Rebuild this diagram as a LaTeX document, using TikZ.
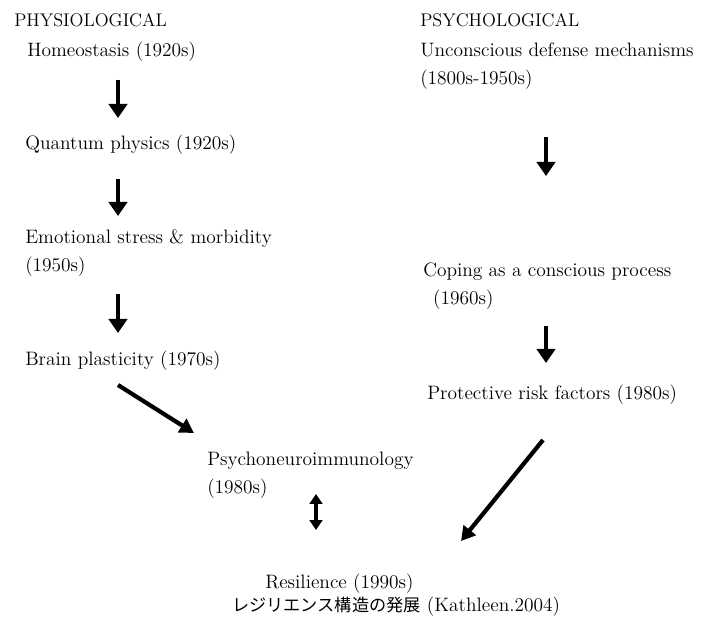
\documentclass[tikz,border=0pt]{standalone}
\usepackage{fontspec}
\newfontfamily\jpfont{Noto Sans CJK JP}
\usepackage{tikz}
\usetikzlibrary{arrows.meta}

\begin{document}
\begin{tikzpicture}[
  x=0.025cm, y=-0.025cm,
  every node/.style={font=\fontsize{13.8}{20.5}\selectfont, inner sep=0pt},
  stage/.style={anchor=base west, align=left},
  heading/.style={anchor=base west, font=\fontsize{13}{15}\selectfont},
  flow/.style={-{Triangle[width=13pt, length=10pt]}, line width=3.5pt},
  slant/.style={-{Triangle[width=11pt, length=10pt]}, line width=3pt},
  mutual/.style={{Triangle[width=9pt, length=7pt]}-{Triangle[width=9pt, length=7pt]}, line width=3.5pt},
]
  \useasboundingbox (0,0) rectangle (719,623);

  % physiological column
  \node[heading] (phys) at (14,27) {PHYSIOLOGICAL};
  \node[stage] (homeo) at (27,57) {Homeostasis (1920s)};
  \node[stage] (quant) at (25,150) {Quantum physics (1920s)};
  \node[stage] (emot) at (25,272) {Emotional stress \& morbidity\\(1950s)};
  \node[stage] (brain) at (25,366) {Brain plasticity (1970s)};
  \node[stage] (pni) at (207,494) {Psychoneuroimmunology\\(1980s)};

  % psychological column
  \node[heading] (psych) at (420,27) {PSYCHOLOGICAL};
  \node[stage] (uncon) at (420,85) {Unconscious defense mechanisms\\(1800s-1950s)};
  \node[stage] (coping) at (423,305) {Coping as a conscious process\\\hspace{7pt}(1960s)};
  \node[stage] (protect) at (427,400) {Protective risk factors (1980s)};

  % outcome
  \node[stage] (resil) at (265,588) {Resilience (1990s)};
  \node[anchor=base west] (caption) at (232,611) {{\jpfont\fontsize{12.2}{14}\selectfont レジリエンス構造の発展}\ (Kathleen.2004)};

  \coordinate (a1s) at (118,80);  \coordinate (a1e) at (118,118);
  \coordinate (a2s) at (118,179); \coordinate (a2e) at (118,216);
  \coordinate (a3s) at (118,294); \coordinate (a3e) at (118,333);
  \coordinate (b1s) at (546,137); \coordinate (b1e) at (546,176);
  \coordinate (b2s) at (546,326); \coordinate (b2e) at (546,363);
  \coordinate (ds) at (118,385);  \coordinate (de) at (194,433);
  \coordinate (es) at (543,440);  \coordinate (ee) at (461,541);
  \coordinate (ms) at (316,494);  \coordinate (me) at (316,530);

  \draw[flow] (a1s) -- (a1e);
  \draw[flow] (a2s) -- (a2e);
  \draw[flow] (a3s) -- (a3e);
  \draw[flow] (b1s) -- (b1e);
  \draw[flow] (b2s) -- (b2e);
  \draw[slant] (ds) -- (de);
  \draw[slant] (es) -- (ee);
  \draw[mutual] (ms) -- (me);
\end{tikzpicture}
\end{document}
